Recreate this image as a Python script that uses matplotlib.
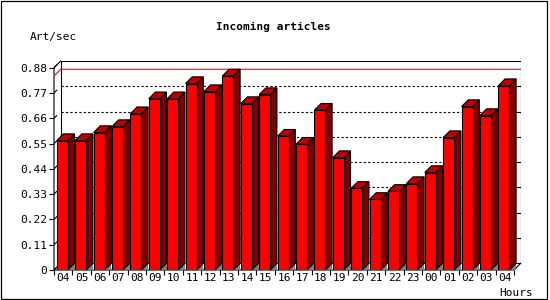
import matplotlib

matplotlib.use("Agg")
import matplotlib.pyplot as plt
from matplotlib.patches import Polygon, Rectangle

hours = ["04", "05", "06", "07", "08", "09", "10", "11", "12", "13", "14", "15",
         "16", "17", "18", "19", "20", "21", "22", "23", "00", "01", "02", "03", "04"]
rates = [0.563, 0.563, 0.598, 0.624, 0.680, 0.745, 0.745, 0.811, 0.776, 0.844,
         0.724, 0.763, 0.582, 0.547, 0.695, 0.489, 0.355, 0.307, 0.342, 0.376,
         0.424, 0.576, 0.711, 0.672, 0.802]
yticks = [0, 0.11, 0.22, 0.33, 0.44, 0.55, 0.66, 0.77, 0.88]
ytick_labels = ["0", "0.11", "0.22", "0.33", "0.44", "0.55", "0.66", "0.77", "0.88"]

plt.rcParams["font.family"] = ["DejaVu Sans Mono"]

W, H = 550, 300
fig = plt.figure(figsize=(W / 100, H / 100), dpi=100)

# plot box in pixels, front axis at left/bottom, back wall shifted by depth
left, right, top, bottom = 54, 520.7, 61, 270
depth = 6.7
lw = 0.8

ax = fig.add_axes([left / W, 1 - bottom / H, (right - left) / W, (bottom - top) / H])
n = len(rates)
ymax = yticks[-1]
dx = depth * n / (right - left - depth)
dy = depth * ymax / (bottom - top - depth)
ax.set_xlim(0, n + dx)
ax.set_ylim(0, ymax + dy)
for s in ax.spines.values():
    s.set_visible(False)

# back wall and its grid
ax.add_patch(Rectangle((dx, dy), n, ymax, fc="white", ec="black", lw=lw, zorder=1))
for t in yticks[1:-1]:
    ax.plot([dx, n + dx], [t + dy, t + dy], color="black", lw=lw, ls=(0, (2, 2)), zorder=1.5)
    ax.plot([n + dx - 0.22, n + dx], [t + dy, t + dy], color="black", lw=lw, zorder=1.5)
for t in yticks:
    ax.plot([0, 0.4 * dx], [t, t + 0.4 * dy], color="black", lw=lw, zorder=1.5)

# left wall and floor edges
ax.plot([0, 0, dx], [0, ymax, ymax + dy], color="black", lw=lw, zorder=1.5, clip_on=False)
ax.plot([0, dx], [0, dy], color="black", lw=lw, zorder=1.5)
ax.plot([0, n, n + dx], [0, 0, dy], color="black", lw=lw, zorder=1.5, clip_on=False)

# max line
peak = max(rates)
ax.plot([0, dx, n + dx], [peak, peak + dy, peak + dy], color="red", lw=lw, zorder=1.6)

# 3d bars
off, bw = 0.15, 0.6
xs = [i + off for i in range(n)]
ax.bar(xs, rates, width=bw, align="edge", color="#ff0000", edgecolor="black",
       linewidth=lw, zorder=3)
for xi, v in zip(xs, rates):
    xr = xi + bw
    ax.add_patch(Polygon([(xr, 0), (xr + dx, 0), (xr + dx, dy)], closed=True,
                         fc="#808080", ec="none", zorder=2))
    ax.add_patch(Polygon([(xr, 0), (xr + dx, dy), (xr + dx, v + dy), (xr, v)], closed=True,
                         fc="#800000", ec="black", lw=lw, zorder=2.1))
    ax.add_patch(Polygon([(xi, v), (xi + dx, v + dy), (xr + dx, v + dy), (xr, v)], closed=True,
                         fc="#c00000", ec="black", lw=lw, zorder=2.1))

ax.set_yticks(yticks, labels=ytick_labels)
ax.tick_params(axis="y", direction="out", length=3.5, width=lw, pad=1.5, labelsize=8)
ax.set_xticks(range(n + 1), labels=[])
ax.set_xticks([i + 0.5 for i in range(n)], labels=hours, minor=True)
ax.tick_params(axis="x", which="major", direction="out", length=3.5, width=lw)
ax.tick_params(axis="x", which="minor", length=0, pad=2.5, labelsize=8)

fig.text(273.5 / W, 1 - 27 / H, "Incoming articles", ha="center", va="center",
         fontsize=8, fontweight="bold")
fig.text(30 / W, 1 - 37 / H, "Art/sec", ha="left", va="center", fontsize=8)
fig.text(533 / W, 1 - 292.5 / H, "Hours", ha="right", va="center", fontsize=8)

fig.add_artist(Rectangle((0.5 / W, 1.5 / H), 546 / W, 297.5 / H, transform=fig.transFigure,
                         fill=False, ec="black", lw=0.9))

fig.savefig("out.png", dpi=100, facecolor="white")
